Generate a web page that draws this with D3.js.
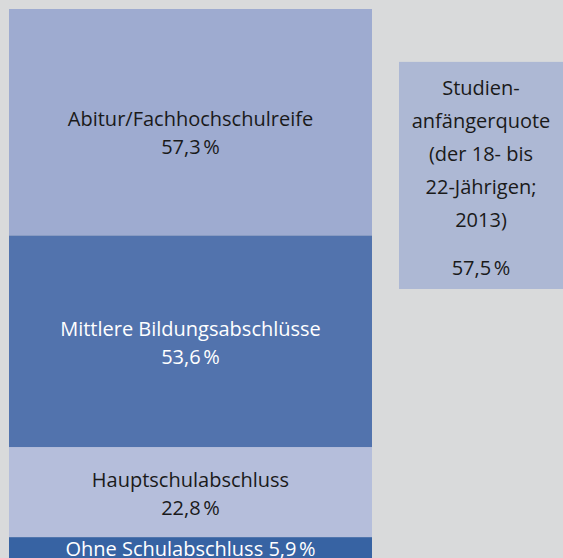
<!DOCTYPE html>
<html>
<head>
<meta charset="utf-8">
<script src="https://cdn.jsdelivr.net/npm/d3@7"></script>
<style>
  html, body { margin: 0; padding: 0; background: #d9dadb; overflow: hidden; }
  svg { display: block; }
</style>
</head>
<body>
<div id="chart"></div>
<script>
// DATA (bottom to top of the stack)
const categories = ["Ohne Schulabschluss", "Hauptschulabschluss", "Mittlere Bildungsabschlüsse", "Abitur/Fachhochschulreife"];
const values = [5.9, 22.8, 53.6, 57.3];
const valueLabels = ["5,9\u202F%", "22,8\u202F%", "53,6\u202F%", "57,3\u202F%"];

const quoteLines = ["Studien-", "anfängerquote", "(der 18- bis", "22-Jährigen;", "2013)"];
const quoteValue = 57.5;
const quoteLabel = "57,5\u202F%";

const width = 563, height = 558;
const fills = ["#3763a3", "#b5bedb", "#5273ad", "#9eabd0"];
const textColors = ["#ffffff", "#1a1a1a", "#ffffff", "#1a1a1a"];
const fontSize = 20;

const svg = d3.select("#chart")
  .append("svg")
  .attr("width", width)
  .attr("height", height);

// stack the values
let cum = 0;
const stacked = values.map((v, i) => {
  const d = { cat: categories[i], v: v, label: valueLabels[i], y0: cum, y1: cum + v, i: i };
  cum += v;
  return d;
});

const y = d3.scaleLinear()
  .domain([0, d3.sum(values)])
  .range([560.4, 9]);

const x = d3.scaleBand()
  .domain(["stack"])
  .range([9, 372])
  .padding(0);

const seg = svg.append("g")
  .attr("font-family", "'Open Sans', sans-serif")
  .attr("font-size", fontSize)
  .selectAll("g")
  .data(stacked)
  .join("g");

seg.append("rect")
  .attr("x", x("stack"))
  .attr("width", x.bandwidth())
  .attr("y", d => y(d.y1))
  .attr("height", d => y(d.y0) - y(d.y1))
  .attr("fill", d => fills[d.i]);

const cx = x("stack") + x.bandwidth() / 2;

// two line labels for the bigger segments (top one sits a bit lower)
seg.filter(d => d.i > 0).each(function(d) {
  const mid = (y(d.y0) + y(d.y1)) / 2 + (d.i === 3 ? 8.5 : 0);
  const t = d3.select(this).append("text")
    .attr("text-anchor", "middle")
    .attr("fill", textColors[d.i]);
  t.append("tspan").attr("x", cx).attr("y", mid - 5).text(d.cat);
  t.append("tspan").attr("x", cx).attr("y", mid + 23).text(d.label);
});

// smallest segment: one line
seg.filter(d => d.i === 0).append("text")
  .attr("text-anchor", "middle")
  .attr("fill", d => textColors[d.i])
  .attr("x", cx)
  .attr("y", d => y(d.y1) + 19)
  .text(d => d.cat + " " + d.label);

// Studienanfängerquote box
const boxBottom = 289;
const boxH = y(0) - y(quoteValue);
const box = svg.append("g")
  .attr("font-family", "'Open Sans', sans-serif")
  .attr("font-size", fontSize)
  .attr("fill", "#1a1a1a");

box.append("rect")
  .attr("x", 399)
  .attr("y", boxBottom - boxH)
  .attr("width", 164)
  .attr("height", boxH)
  .attr("fill", "#adb8d4");

const bx = 399 + 164 / 2;
box.append("text")
  .attr("text-anchor", "middle")
  .selectAll("tspan")
  .data(quoteLines)
  .join("tspan")
    .attr("x", bx)
    .attr("y", (d, i) => 95 + i * 33)
    .text(d => d);

box.append("text")
  .attr("text-anchor", "middle")
  .attr("x", bx)
  .attr("y", 275)
  .text(quoteLabel);
</script>
</body>
</html>
